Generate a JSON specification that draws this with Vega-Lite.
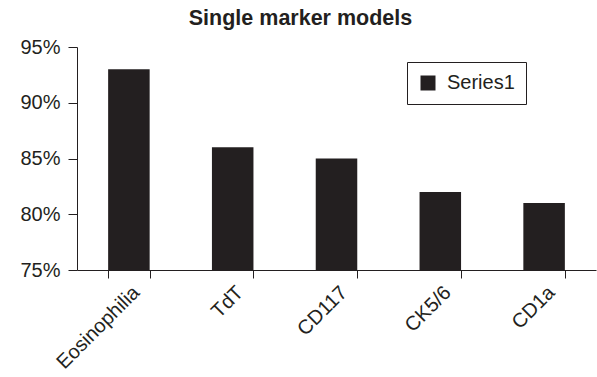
{
  "$schema": "https://vega.github.io/schema/vega-lite/v6.json",
  "autosize": {"type": "none"},
  "padding": {"left": 77, "top": 47, "right": 1, "bottom": 107},
  "width": 519,
  "height": 223,
  "background": "#ffffff",
  "config": {
    "font": "Liberation Sans",
    "view": {"stroke": null},
    "axis": {"domainColor": "#231f20", "tickColor": "#231f20", "labelColor": "#231f20", "grid": false}
  },
  "title": {
    "text": "Single marker models",
    "fontSize": 21.5,
    "fontWeight": "bold",
    "color": "#231f20",
    "anchor": "middle",
    "frame": "group",
    "offset": 18,
    "dx": -36,
    "dy": 10
  },
  "data": {
    "values": [
      {"marker": "Eosinophilia", "accuracy": 0.93},
      {"marker": "TdT", "accuracy": 0.86},
      {"marker": "CD117", "accuracy": 0.85},
      {"marker": "CK5/6", "accuracy": 0.82},
      {"marker": "CD1a", "accuracy": 0.81}
    ]
  },
  "mark": {"type": "bar", "clip": true},
  "encoding": {
    "x": {
      "field": "marker",
      "type": "nominal",
      "sort": null,
      "scale": {"paddingInner": 0.6, "paddingOuter": 0.3},
      "axis": {
        "title": null,
        "labelAngle": -45,
        "labelFontSize": 20,
        "tickBand": "extent",
        "tickSize": 8,
        "labelPadding": 4,
        "labelDx": -4,
        "labelDy": 3
      }
    },
    "y": {
      "field": "accuracy",
      "type": "quantitative",
      "scale": {"domain": [0.75, 0.95], "zero": false, "nice": false},
      "axis": {
        "title": null,
        "format": ".0%",
        "values": [0.75, 0.8, 0.85, 0.9, 0.95],
        "labelFontSize": 20,
        "tickSize": 9,
        "labelPadding": 8
      }
    },
    "color": {
      "datum": "Series1",
      "scale": {"range": ["#231f20"]},
      "legend": {
        "title": null,
        "orient": "none",
        "legendX": 330,
        "legendY": 15,
        "symbolType": "square",
        "symbolSize": 225,
        "symbolStrokeWidth": 0,
        "labelFontSize": 20,
        "labelColor": "#231f20",
        "labelOffset": 9,
        "padding": 11,
        "strokeColor": "#231f20",
        "fillColor": "#ffffff"
      }
    }
  }
}
